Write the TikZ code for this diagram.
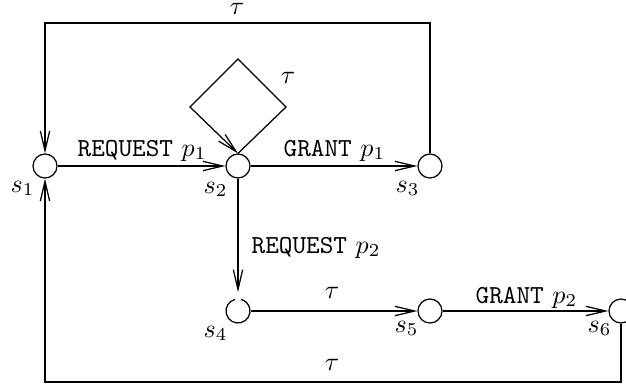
\documentclass[tikz,border=0pt]{standalone}
\usetikzlibrary{arrows.meta}
\begin{document}
\begin{tikzpicture}[x=0.385pt,y=-0.385pt,
  line width=0.48pt,
  state/.style={circle,draw,line width=0.48pt,minimum size=9.24pt,inner sep=0pt},
  trans/.style={-{Straight Barb[length=7.6pt,width=3.6pt,line width=0.48pt]}},
  lbl/.style={anchor=base west,inner sep=0pt},
  clbl/.style={anchor=base,inner sep=0pt}]
  \clip (0,0) rectangle (626,387);

  % states
  \node[state] (s1) at (45,166) {};
  \node[state] (s2) at (238,166) {};
  \node[state] (s3) at (430,166) {};
  \node[circle,minimum size=9.24pt,inner sep=0pt] (s4) at (238,311) {};
  \draw (s4.center) ++(105:4.62pt) arc[start angle=105,end angle=435,radius=4.62pt];
  \node[state] (s5) at (430,311) {};
  \node[state] (s6) at (621,311) {};

  % state names
  \node[lbl] (n1) at (10,192) {$s_1$};
  \node[lbl] (n2) at (203,193) {$s_2$};
  \node[lbl] (n3) at (395,192) {$s_3$};
  \node[lbl] (n4) at (203,337) {$s_4$};
  \node[lbl] (n5) at (394,332) {$s_5$};
  \node[lbl] (n6) at (587,332) {$s_6$};

  % corners of the wrap-around paths and the self-loop
  \coordinate (tl) at (45,23);
  \coordinate (tr) at (430,23);
  \coordinate (bl) at (45,382);
  \coordinate (br) at (621,382);
  \coordinate (dr) at (286,107);
  \coordinate (dt) at (238,59);
  \coordinate (dl) at (190,107);

  % transitions
  \draw[trans] (s1) -- (s2);
  \draw[trans] (s2) -- (s3);
  \draw[trans] (s3.north) -- (tr) -- (tl) -- (s1.north);
  \draw[trans] (s2.north) -- (dr) -- (dt) -- (dl) -- (s2.north);
  \draw[trans,shorten >=2.4pt] (s2.south) -- (s4.north);
  \draw[trans] (s4) -- (s5);
  \draw[trans] (s5) -- (s6);
  \draw[trans] (s6.south) -- (br) -- (bl) -- (s1.south);

  % transition labels
  \node[lbl] (l12) at (77,156) {\texttt{REQUEST} $p_1$};
  \node[lbl] (l23) at (283,156) {\texttt{GRANT} $p_1$};
  \node[clbl] (l31) at (237,14) {$\tau$};
  \node[clbl] (l22) at (288,83) {$\tau$};
  \node[lbl] (l24) at (251,253) {\texttt{REQUEST} $p_2$};
  \node[clbl] (l45) at (332,298) {$\tau$};
  \node[lbl] (l56) at (475,303) {\texttt{GRANT} $p_2$};
  \node[clbl] (l61) at (332,370) {$\tau$};
\end{tikzpicture}
\end{document}
